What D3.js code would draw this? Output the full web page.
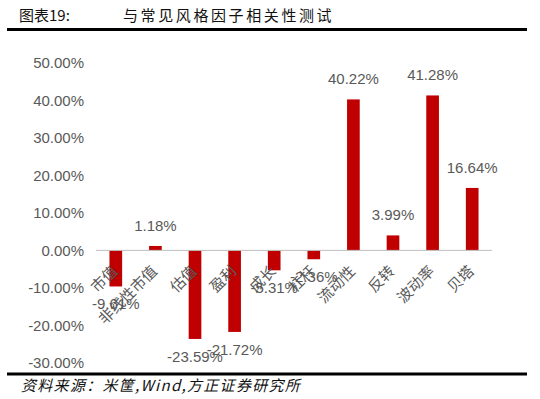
<!DOCTYPE html>
<html>
<head>
<meta charset="utf-8">
<script src="https://cdn.jsdelivr.net/npm/d3@7"></script>
<style>
  body { margin: 0; background: #fff; }
  svg { display: block; }
</style>
</head>
<body>
<script>
// 与常见风格因子相关性测试
const factors = ["市值", "非线性市值", "估值", "盈利", "成长", "杠杆", "流动性", "反转", "波动率", "贝塔"];
const corr = [-9.61, 1.18, -23.59, -21.72, -5.31, -2.36, 40.22, 3.99, 41.28, 16.64];
const yTicks = [-30, -20, -10, 0, 10, 20, 30, 40, 50];

const width = 540, height = 399;
const labelFont = "'Liberation Sans', Arial, sans-serif";
const cjkFont = "'Noto Sans CJK SC', sans-serif";

const svg = d3.select("body").append("svg")
    .attr("width", width)
    .attr("height", height);

// header + footer
svg.append("text")
    .attr("x", 19).attr("y", 21)
    .attr("font-family", cjkFont).attr("font-size", 15)
    .attr("fill", "#111")
    .text("图表19:");
svg.append("text")
    .attr("x", 123).attr("y", 21)
    .attr("font-family", cjkFont).attr("font-size", 15)
    .attr("letter-spacing", 2.6)
    .attr("fill", "#111")
    .text("与常见风格因子相关性测试");
svg.append("rect").attr("x", 7).attr("y", 28).attr("width", 520).attr("height", 3).attr("fill", "#000");
svg.append("rect").attr("x", 7).attr("y", 372.5).attr("width", 520).attr("height", 3).attr("fill", "#000");
svg.append("text")
    .attr("x", 21).attr("y", 391)
    .attr("font-family", cjkFont).attr("font-size", 15)
    .attr("font-style", "italic")
    .attr("letter-spacing", 1.3)
    .attr("fill", "#111")
    .text("资料来源：米筐,Wind,方正证券研究所");

const x = d3.scaleBand()
    .domain(factors)
    .range([96, 492])
    .paddingInner(0.68)
    .paddingOuter(0.34);

const y = d3.scaleLinear()
    .domain([-30, 50])
    .range([363, 62.7]);

// y axis labels
const yAxis = svg.append("g")
    .attr("transform", "translate(84,0)")
    .call(d3.axisLeft(y).tickValues(yTicks).tickSize(0).tickPadding(0)
        .tickFormat(d => d.toFixed(2) + "%"));
yAxis.select(".domain").remove();
yAxis.selectAll("text")
    .attr("font-family", labelFont)
    .attr("font-size", 15)
    .attr("fill", "#595959");

// bars
svg.append("g")
    .attr("fill", "#C00000")
    .selectAll("rect")
    .data(corr)
    .join("rect")
    .attr("x", (d, i) => x(factors[i]))
    .attr("width", x.bandwidth())
    .attr("y", d => y(Math.max(0, d)))
    .attr("height", d => Math.abs(y(d) - y(0)));

// zero line
svg.append("line")
    .attr("x1", 96).attr("x2", 492)
    .attr("y1", y(0)).attr("y2", y(0))
    .attr("stroke", "#bfbfbf").attr("stroke-width", 1);

// category labels
svg.append("g")
    .selectAll("text")
    .data(factors)
    .join("text")
    .attr("transform", d => `translate(${x(d) + x.bandwidth() / 2 - 1},${y(0) + 18}) rotate(-45)`)
    .attr("text-anchor", "end")
    .attr("dy", "0.35em")
    .attr("font-family", cjkFont)
    .attr("font-size", 15)
    .attr("fill", "#595959")
    .text(d => d);

// value labels
svg.append("g")
    .selectAll("text")
    .data(corr)
    .join("text")
    .attr("x", (d, i) => x(factors[i]) + x.bandwidth() / 2)
    .attr("y", d => d >= 0 ? y(d) - 15 : y(d) + 23)
    .attr("text-anchor", "middle")
    .attr("font-family", labelFont)
    .attr("font-size", 15)
    .attr("fill", "#595959")
    .text(d => d.toFixed(2) + "%");
</script>
</body>
</html>
